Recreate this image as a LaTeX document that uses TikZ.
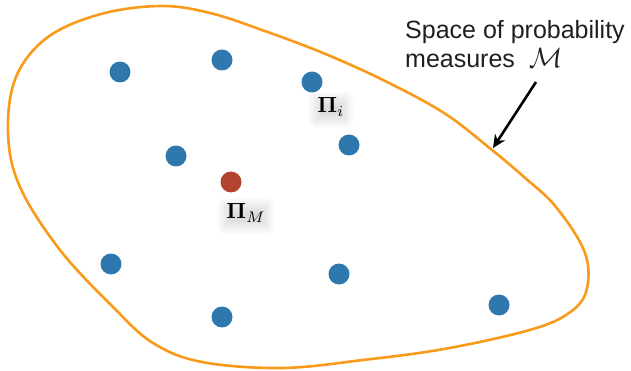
\documentclass[tikz,border=0pt]{standalone}
\usepackage{fontspec}
\setmainfont{Liberation Sans}
\usepackage{amsmath}
\usepackage{graphicx}
\usetikzlibrary{arrows.meta,shadows.blur}
\definecolor{dotblue}{HTML}{2F78AE}
\definecolor{dotred}{HTML}{B2432F}
\definecolor{outline}{HTML}{F99A1A}
\tikzset{
  pt/.style={circle, fill=dotblue, minimum width=20pt, minimum height=21pt, inner sep=0pt},
  ptred/.style={pt, fill=dotred},
  lab/.style={inner sep=2pt,
    blur shadow={shadow xshift=0pt, shadow yshift=-3pt, shadow blur radius=8pt, shadow opacity=14, shadow blur steps=14}},
  note/.style={font=\fontsize{25}{28}\selectfont, inner sep=0pt, text=black!88, anchor=base west}
}
\begin{document}
\begin{tikzpicture}[x=1pt,y=-1pt]
\useasboundingbox (0,0) rectangle (631,371);
\draw[outline, line width=2.6pt] plot[smooth cycle, tension=0.6] coordinates {
 (161,6) (101,14) (48,37) (16,77) (8,133) (20,187) (60,250) (113,307) (153,343)
 (202,362) (282,368) (363,360) (444,349) (526,331) (566,315) (586,292) (585,253)
 (556,207) (524,177) (492,150) (444,113) (383,80) (323,53) (262,30) (210,13)};
\node[pt] (p1) at (120,72) {};
\node[pt] (p2) at (222,60) {};
\node[pt] (p3) at (312,82) {};
\node[pt] (p4) at (176,156) {};
\node[pt] (p5) at (349,145) {};
\node[ptred] (pm) at (231,182) {};
\node[pt] (p7) at (111,264) {};
\node[pt] (p8) at (339,274) {};
\node[pt] (p9) at (222,317) {};
\node[pt] (p10) at (499,305) {};
\node[lab] (li) at (331,107) {\scalebox{2.2}{$\boldsymbol{\Pi}_i$}};
\node[lab] (lm) at (246,213) {\scalebox{2.2}{$\boldsymbol{\Pi}_M$}};
\node[note] (t1) at (405,39) {Space of probability};
\node[note] (t2) at (405,68) {measures\ \ \scalebox{1.12}{$\mathcal{M}$}};
\coordinate (tip) at (493,148);
\coordinate (tail) at (536,82);
\draw[line width=2.6pt, -{Stealth[length=13pt,width=12pt]}] (tail) -- (tip);
\end{tikzpicture}
\end{document}
